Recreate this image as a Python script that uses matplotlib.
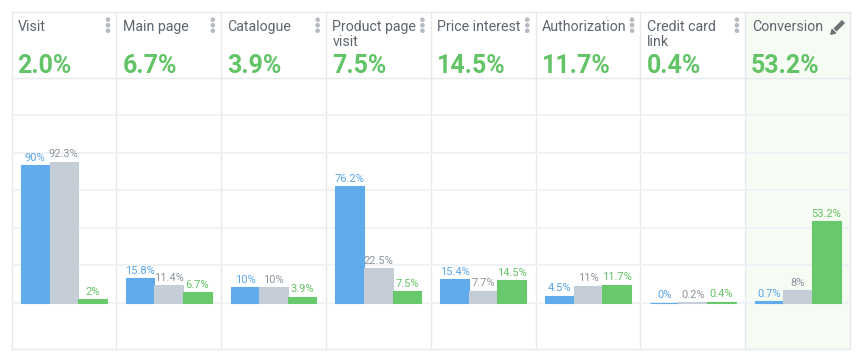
import numpy as np
import matplotlib
matplotlib.use("Agg")
import matplotlib.pyplot as plt
from matplotlib.patches import Rectangle, Circle, Polygon

plt.rcParams['font.family'] = ['Roboto', 'DejaVu Sans']

# ---------------- data ----------------
categories = ["Visit", "Main page", "Catalogue", "Product page\nvisit",
              "Price interest", "Authorization", "Credit card\nlink", "Conversion"]
headline = [2.0, 6.7, 3.9, 7.5, 14.5, 11.7, 0.4, 53.2]
series_blue = [90, 15.8, 10, 76.2, 15.4, 4.5, 0, 0.7]
series_gray = [92.3, 11.4, 10, 22.5, 7.7, 11, 0.2, 8]
series_green = [2, 6.7, 3.9, 7.5, 14.5, 11.7, 0.4, 53.2]

# ---------------- style ----------------
W, H = 859, 359
BLUE, BLUE_T = "#5fabec", "#5aa5e6"
GRAY, GRAY_T = "#c5ced6", "#8d959d"
GREEN, GREEN_T = "#68c96c", "#62c466"
TITLE_C = "#5d6670"
LINE_C = "#e6eaee"
GRID_C = "#eef1f4"

left_px, right_px = 11.5, 850.0
top_px, head_px, bottom_px = 12.0, 78.0, 348.5
base_px = 302.5
px_per_unit = 1.525
n = len(categories)
col_w = (right_px - left_px) / n

fig = plt.figure(figsize=(W / 100, H / 100), dpi=100)
bg = fig.add_axes([0, 0, 1, 1])
bg.set_xlim(0, W)
bg.set_ylim(H, 0)
bg.axis("off")

# highlighted last column
bg.add_patch(Rectangle((left_px + (n - 1) * col_w, top_px), col_w, bottom_px - top_px,
                       facecolor="#f6fbf4", edgecolor="none", zorder=0))

# table borders
for i in range(n + 1):
    x = left_px + i * col_w
    bg.plot([x, x], [top_px, bottom_px], color=LINE_C, lw=1, zorder=1)
for y in (top_px, head_px, bottom_px):
    bg.plot([left_px, right_px], [y, y], color=LINE_C, lw=1, zorder=1)

# header texts
for i, (cat, val) in enumerate(zip(categories, headline)):
    x0 = left_px + i * col_w
    lines = cat.split("\n")
    for j, ln in enumerate(lines):
        bg.text(x0 + 6.5, 30.7 + 15 * j, ln, fontsize=10.2, color=TITLE_C,
                va="baseline", ha="left")
    bg.text(x0 + 6, 72.7, f"{val:.1f}%", fontsize=18, color=GREEN_T,
            fontweight="bold", va="baseline", ha="left")
    if i < n - 1:
        xd = x0 + col_w - 8.3
        for yd in (19.7, 25.2, 30.7):
            bg.add_patch(Circle((xd, yd), 1.6, color="#b5bbc1", zorder=3))
    else:
        # pencil icon
        x1, y1, x2, y2 = 833.5, 31.5, 843.5, 21.5
        bg.plot([x1 + 1.5, x2], [y1 - 1.5, y2], color="#6e7377", lw=3.2,
                solid_capstyle="butt", zorder=3)
        bg.add_patch(Polygon([[830.8, 34.3], [832.0, 29.5], [835.6, 33.1]],
                             closed=True, color="#6e7377", zorder=3))

# ---------------- chart ----------------
ax = fig.add_axes([left_px / W, (H - bottom_px) / H,
                   (right_px - left_px) / W, (bottom_px - head_px) / H])
ax.set_facecolor("none")
ymin = -(bottom_px - base_px) / px_per_unit
ymax = (base_px - head_px) / px_per_unit
ax.set_xlim(-0.5, n - 0.5)
ax.set_ylim(ymin, ymax)
for s in ax.spines.values():
    s.set_visible(False)
ax.set_xticks([])
ax.set_yticks([])

grid_step = 37.5 / px_per_unit
for g in np.arange(0, ymax - 1, grid_step):
    ax.axhline(g, color=GRID_C, lw=1.2, zorder=0)

xs = np.arange(n)
bw = 0.273
for off, vals, fc, tc in ((-bw, series_blue, BLUE, BLUE_T),
                          (0, series_gray, GRAY, GRAY_T),
                          (bw, series_green, GREEN, GREEN_T)):
    ax.bar(xs + off, vals, width=bw, color=fc, edgecolor=fc, lw=0.8, zorder=2)
    for x, v in zip(xs + off, vals):
        ax.annotate(f"{v:g}%", (x, v), xytext=(0, 4.5), textcoords="offset pixels",
                    ha="center", va="baseline", fontsize=8, color=tc, zorder=3)

fig.savefig("out.png", dpi=100, facecolor="white")
